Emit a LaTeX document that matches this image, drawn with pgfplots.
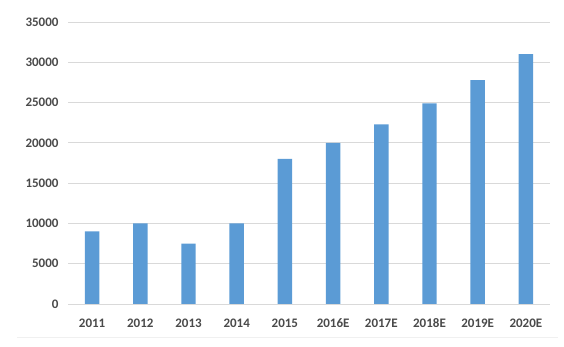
\documentclass[border=0pt]{standalone}
\usepackage{fontspec}
\setmainfont{Carlito}
\usepackage{pgfplots}
\pgfplotsset{compat=1.18}
\definecolor{barblue}{HTML}{5B9BD5}
\definecolor{gridgray}{HTML}{D9D9D9}
\definecolor{labgray}{HTML}{4A4A4A}
\begin{document}
\begin{tikzpicture}
\begin{axis}[
  scale only axis,
  width=482bp, height=282bp,
  xmin=-0.5, xmax=9.5,
  ymin=0, ymax=35000,
  ytick={0,5000,...,35000},
  yticklabels={0,5000,10000,15000,20000,25000,30000,35000},
  scaled y ticks=false,
  xtick={0,...,9},
  xticklabels={2011,2012,2013,2014,2015,2016E,2017E,2018E,2019E,2020E},
  axis line style={draw=none},
  ymajorgrids,
  grid style={gridgray, line width=0.8pt},
  major tick length=0pt,
  tick style={draw=none},
  /pgf/number format/assume math mode=true,
  ticklabel style={font=\fontsize{13bp}{15bp}\selectfont\bfseries, text=labgray},
  yticklabel style={xshift=-6bp},
  xticklabel style={anchor=base, text height=9bp, text depth=0pt, yshift=-23bp},
  clip=false,
]
\addplot[ybar, bar width=0.3, fill=barblue, draw=none] coordinates {
  (0,9000) (1,10000) (2,7500) (3,10000) (4,18000)
  (5,20000) (6,22300) (7,24900) (8,27800) (9,31000)
};
\draw[gridgray, line width=0.8pt] (axis cs:-0.5,0) -- (axis cs:9.5,0);
\end{axis}
\draw[gray!12, line width=0.6pt] (-51bp,-33bp) -- (490bp,-33bp);
\path[use as bounding box] (-68bp,-43bp) rectangle (496bp,304bp);
\end{tikzpicture}
\end{document}
